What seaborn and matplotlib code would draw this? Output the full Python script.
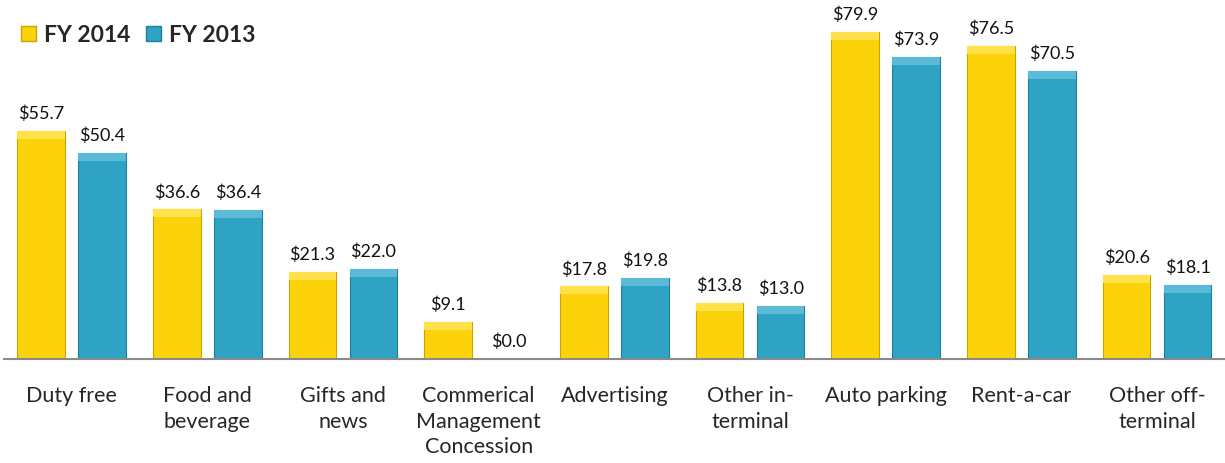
import matplotlib
matplotlib.use("Agg")
import matplotlib.pyplot as plt
import seaborn as sns
import pandas as pd
from matplotlib.patches import Rectangle, Patch

categories = ["Duty free", "Food and\nbeverage", "Gifts and\nnews", "Commerical\nManagement\nConcession",
              "Advertising", "Other in-\nterminal", "Auto parking", "Rent-a-car", "Other off-\nterminal"]
fy2014 = [55.7, 36.6, 21.3, 9.1, 17.8, 13.8, 79.9, 76.5, 20.6]
fy2013 = [50.4, 36.4, 22.0, 0.0, 19.8, 13.0, 73.9, 70.5, 18.1]
series = ["FY 2014", "FY 2013"]

df = pd.DataFrame({
    "cat": categories * 2,
    "val": fy2014 + fy2013,
    "series": [series[0]] * len(categories) + [series[1]] * len(categories),
})

sns.set_theme(style="white")
plt.rcParams['font.family'] = ['Lato', 'DejaVu Sans']

colors = {"FY 2014": "#FCD20A", "FY 2013": "#2EA3C3"}
edges = {"FY 2014": "#C9A400", "FY 2013": "#1E7F99"}
tops = {"FY 2014": "#FFE14A", "FY 2013": "#5BBBD6"}

fig = plt.figure(figsize=(12.25, 4.64), dpi=100)
ax = fig.add_axes([0.003, 0.224, 0.997, 0.776])
sns.barplot(data=df, x="cat", y="val", hue="series", palette=colors, width=0.9, gap=0.22,
            ax=ax, legend=False, saturation=1)

for cont, s in zip(ax.containers, series):
    for p in cont.patches:
        p.set_edgecolor(edges[s])
        p.set_linewidth(0.8)
        h = p.get_height()
        if h > 0:
            bh = min(2.0, h * 0.3)
            ax.add_patch(Rectangle((p.get_x(), h - bh), p.get_width(), bh,
                                   facecolor=tops[s], edgecolor='none', zorder=p.get_zorder() + 0.1))
    ax.bar_label(cont, labels=[f"${v:.1f}" for v in cont.datavalues], padding=7,
                 fontsize=13, color="#111111")

ax.set_xlim(-0.5, 8.5)
ax.set_ylim(0, 88)
ax.set_xlabel("")
ax.set_ylabel("")
ax.set_yticks([])
ax.tick_params(axis='x', length=0, pad=19, labelsize=15.5)
for lbl in ax.get_xticklabels():
    lbl.set_linespacing(1.32)
for sp in ["top", "left", "right"]:
    ax.spines[sp].set_visible(False)
ax.spines["bottom"].set_color("#8a8a8a")
ax.spines["bottom"].set_linewidth(1.5)

handles = [Patch(facecolor=colors[s], edgecolor=edges[s]) for s in series]
leg = fig.legend(handles, series, loc="upper left", bbox_to_anchor=(0.006, 0.975), ncol=2, frameon=False,
                 prop={'weight': 'bold', 'size': 16.5}, handlelength=0.65, handleheight=0.65,
                 handletextpad=0.35, columnspacing=0.7, borderaxespad=0.2)

fig.savefig("out.png", dpi=100)
